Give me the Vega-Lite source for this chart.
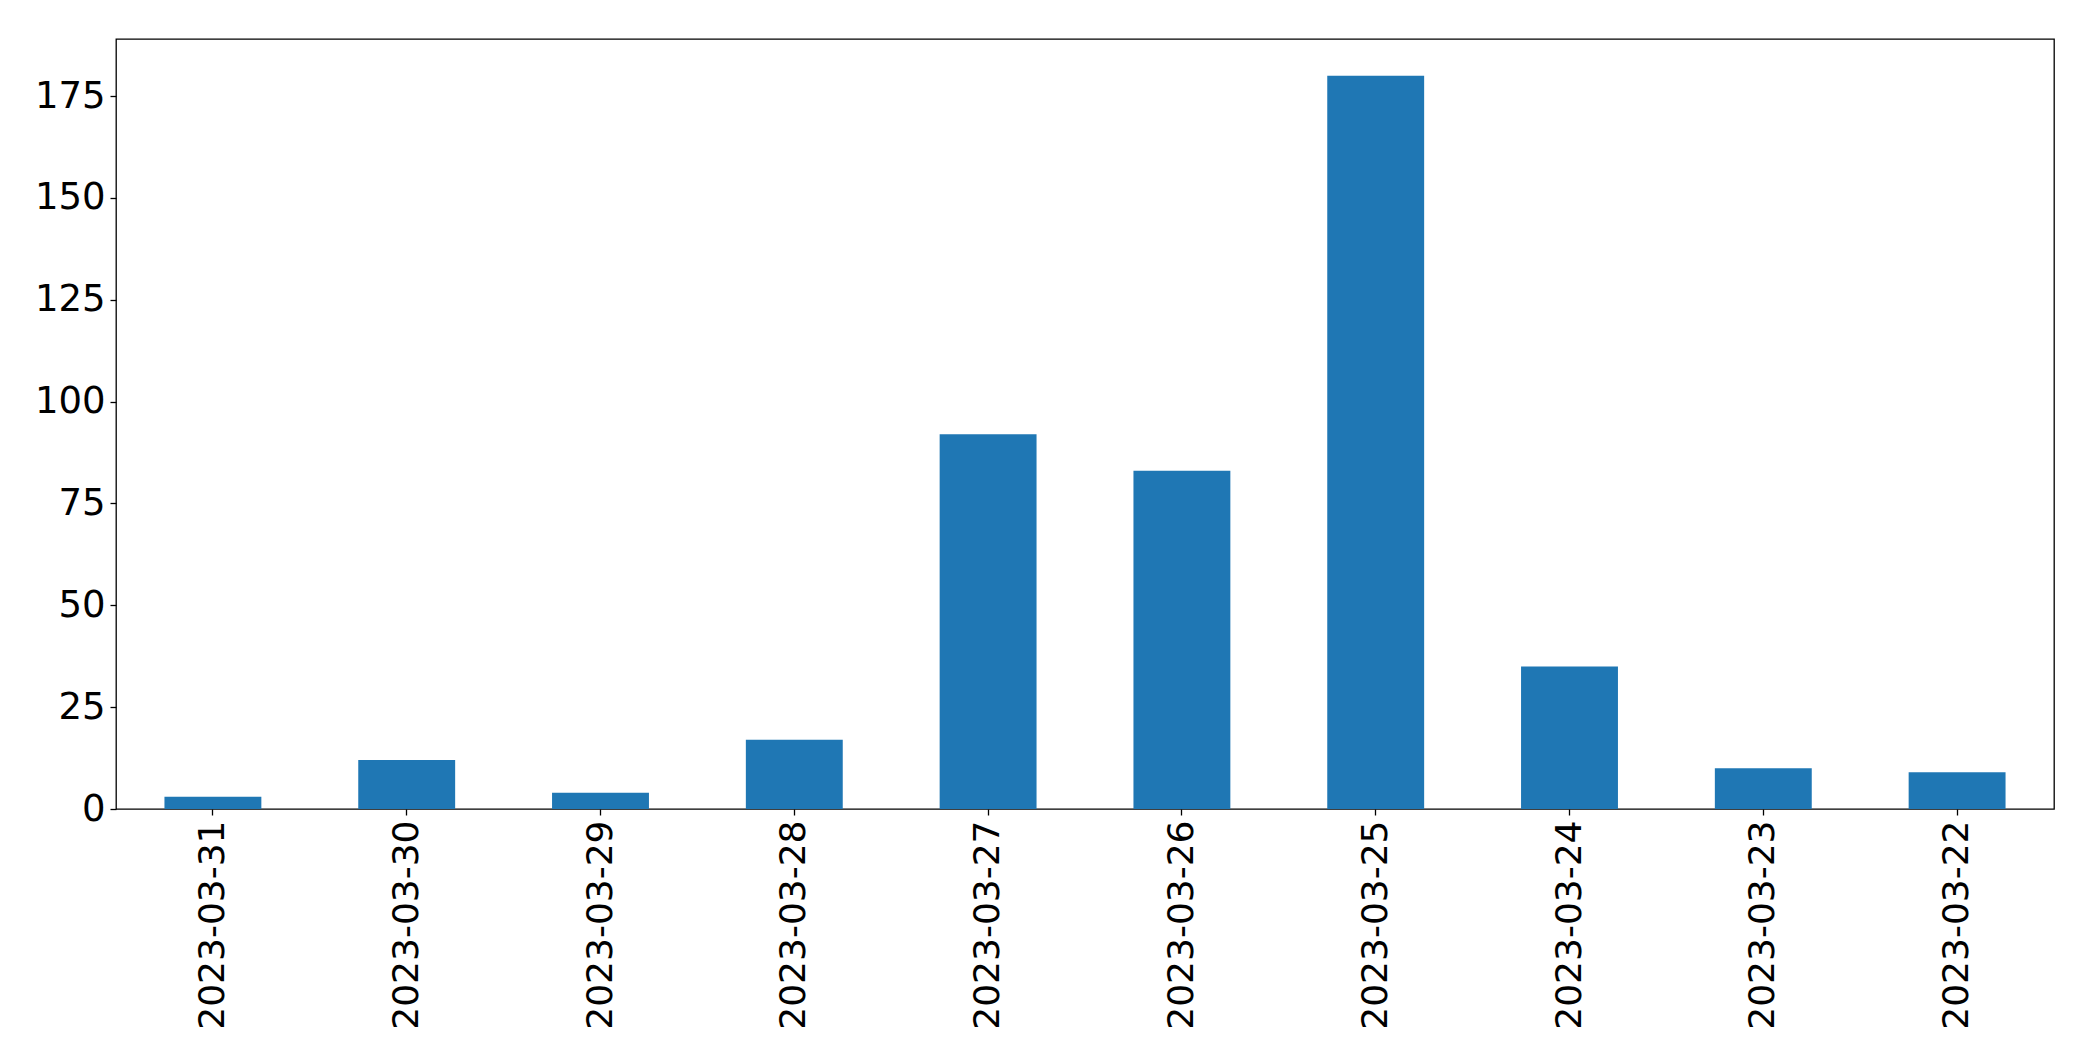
{
  "$schema": "https://vega.github.io/schema/vega-lite/v6.json",
  "autosize": "none",
  "width": 1938,
  "height": 770,
  "padding": {"left": 116, "top": 39, "right": 39, "bottom": 252},
  "background": "white",
  "data": {"values": [
    {"date": "2023-03-31", "count": 3},
    {"date": "2023-03-30", "count": 12},
    {"date": "2023-03-29", "count": 4},
    {"date": "2023-03-28", "count": 17},
    {"date": "2023-03-27", "count": 92},
    {"date": "2023-03-26", "count": 83},
    {"date": "2023-03-25", "count": 180},
    {"date": "2023-03-24", "count": 35},
    {"date": "2023-03-23", "count": 10},
    {"date": "2023-03-22", "count": 9}
  ]},
  "mark": {"type": "bar", "color": "#1f77b4"},
  "encoding": {
    "x": {
      "field": "date", "type": "nominal", "sort": null, "title": null,
      "scale": {"paddingInner": 0.5, "paddingOuter": 0.25},
      "axis": {"labelAngle": -90, "labelFont": "DejaVu Sans", "labelFontSize": 36, "labelColor": "black", "labelLimit": 0,
               "tickColor": "black", "tickSize": 6, "tickWidth": 1.3, "labelPadding": 5, "domain": false, "grid": false}
    },
    "y": {
      "field": "count", "type": "quantitative", "title": null,
      "scale": {"domain": [0, 189], "nice": false, "zero": true},
      "axis": {"values": [0, 25, 50, 75, 100, 125, 150, 175], "labelFont": "DejaVu Sans", "labelFontSize": 37, "labelColor": "black",
               "tickColor": "black", "tickSize": 6, "tickWidth": 1.3, "labelPadding": 5, "domain": false, "grid": false}
    }
  },
  "config": {"view": {"stroke": "black", "strokeWidth": 1.3}}
}
